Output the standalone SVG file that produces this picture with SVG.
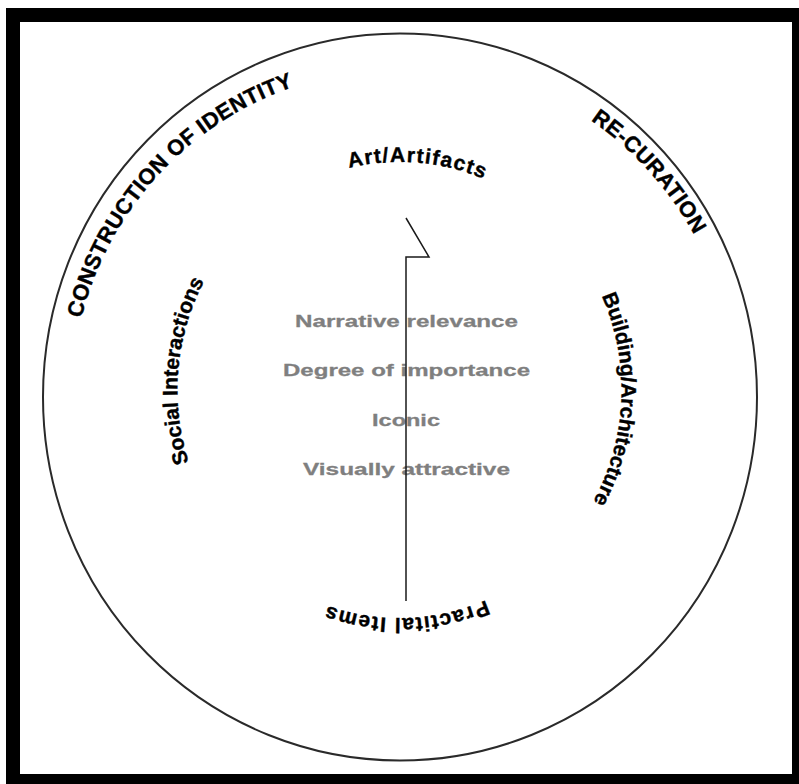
<svg xmlns="http://www.w3.org/2000/svg" xmlns:xlink="http://www.w3.org/1999/xlink" width="799" height="784" viewBox="0 0 799 784">
  <style>
    .outer { font-family: "Liberation Sans", Arial, sans-serif; font-weight: bold; font-size: 22px; fill: #000; stroke: #000; stroke-width: 0.4; letter-spacing: 0.3px; }
    .inner { font-family: "Liberation Sans", Arial, sans-serif; font-weight: bold; font-size: 21px; fill: #000; stroke: #000; stroke-width: 0.4; }
    .crit { font-family: "Liberation Sans", Arial, sans-serif; font-weight: bold; font-size: 17px; fill: #7f7f7f; stroke: #7f7f7f; stroke-width: 0.3; text-anchor: middle; }
    .conn { fill: none; stroke: #1a1a1a; stroke-width: 1.5; }
  </style>
  <defs>
    <path id="outerPath" d="M 400 725 A 328 328 0 1 1 400 69 A 328 328 0 1 1 400 725"/>
    <path id="outerPath2" d="M 400 733 A 336 336 0 1 1 400 61 A 336 336 0 1 1 400 733"/>
    <path id="innerPath" d="M 556.5 228.8 A 222 228 0 1 1 242.5 551.2 A 222 228 0 1 1 556.5 228.8"/>
  </defs>
  <rect x="0" y="0" width="799" height="784" fill="#ffffff"/>
  <rect x="6" y="8" width="793" height="776" fill="#000"/>
  <rect x="20" y="22" width="772" height="752" fill="#fff"/>
  <g id="boundary">
    <ellipse cx="400" cy="397" rx="357" ry="363.5" fill="none" stroke="#2a2a2a" stroke-width="2"/>
  </g>
  <g id="construction-of-identity">
    <text class="outer" text-anchor="middle"><textPath xlink:href="#outerPath" href="#outerPath" startOffset="36.8%">CONSTRUCTION OF IDENTITY</textPath></text>
  </g>
  <g id="re-curation">
    <text class="outer" text-anchor="middle"><textPath xlink:href="#outerPath2" href="#outerPath2" startOffset="63.3%">RE-CURATION</textPath></text>
  </g>
  <g id="art-artifacts">
    <text class="inner" text-anchor="middle" letter-spacing="1.3"><textPath xlink:href="#innerPath" href="#innerPath" startOffset="88.9%">Art/Artifacts</textPath></text>
  </g>
  <g id="building-architecture">
    <text class="inner" text-anchor="middle"><textPath xlink:href="#innerPath" href="#innerPath" startOffset="13.3%">Building/Architecture</textPath></text>
  </g>
  <g id="practital-items">
    <text class="inner" text-anchor="middle" letter-spacing="1.3"><textPath xlink:href="#innerPath" href="#innerPath" startOffset="37.1%">Practital Items</textPath></text>
  </g>
  <g id="social-interactions">
    <text class="inner" text-anchor="middle"><textPath xlink:href="#innerPath" href="#innerPath" startOffset="64%">Social Interactions</textPath></text>
  </g>
  <g id="criteria">
    <text class="crit" x="406.5" y="327" textLength="223" lengthAdjust="spacingAndGlyphs">Narrative relevance</text>
    <text class="crit" x="406.5" y="376" textLength="247" lengthAdjust="spacingAndGlyphs">Degree of importance</text>
    <text class="crit" x="406" y="426" textLength="68" lengthAdjust="spacingAndGlyphs">Iconic</text>
    <text class="crit" x="406.5" y="475" textLength="207" lengthAdjust="spacingAndGlyphs">Visually attractive</text>
  </g>
  <g id="connectors">
    <polyline class="conn" points="406,218 429,257 406,257 406,601"/>
  </g>
</svg>
